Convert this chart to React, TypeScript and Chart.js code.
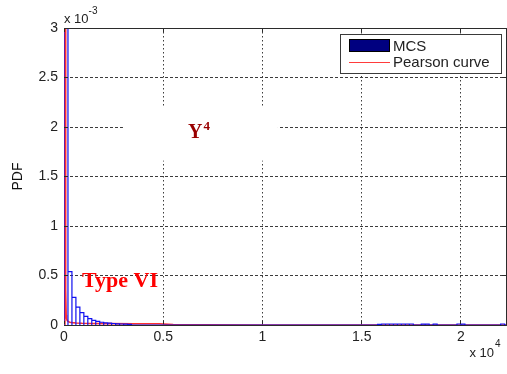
import React, { useEffect, useRef } from "react";
import { Chart, registerables } from "chart.js";

Chart.register(...registerables);

// ---- axes ----
const X_MAX = 22270;
const Y_MAX = 3; // values in units of 10^-3
const xTickValues = [0, 5000, 10000, 15000, 20000];
const xTickLabels = ["0", "0.5", "1", "1.5", "2"];
const yTickValues = [0, 0.5, 1, 1.5, 2, 2.5, 3];
const yTickLabels = ["0", "0.5", "1", "1.5", "2", "2.5", "3"];

// ---- MCS histogram (bin left edge, PDF x 10^-3) ----
const BIN_WIDTH = 200;
const mcsBinStart = [
  0, 200, 400, 600, 800, 1000, 1200, 1400, 1600, 1800, 2000, 2200, 2400, 2600,
  2800, 3000, 3200, 15800, 16000, 16200, 16400, 16600, 16800, 17000, 17200,
  17400, 18000, 18200, 18600, 19800, 20000, 22000,
];
const mcsPdf = [
  3.45, 0.54, 0.28, 0.18, 0.125, 0.087, 0.064, 0.046, 0.036, 0.028, 0.022,
  0.018, 0.015, 0.012, 0.01, 0.008, 0.006, 0.006, 0.01, 0.01, 0.01, 0.01, 0.01,
  0.01, 0.01, 0.01, 0.008, 0.008, 0.008, 0.01, 0.008, 0.01,
];

// ---- Pearson (Type VI) curve ----
const pearsonX = [
  25, 45, 60, 72, 84, 95, 110, 130, 160, 220, 300, 420, 600, 900, 1400, 2200,
  3500, 4800, 5500, 7000, 10000, 22270,
];
const pearsonPdf = [
  0, 3.5, 12, 8, 2.5, 0.35, 0.1, 0.065, 0.045, 0.034, 0.028, 0.024, 0.02,
  0.017, 0.015, 0.014, 0.013, 0.012, 0.004, 0.001, 0, 0,
];

const legendLabels = ["MCS", "Pearson curve"];

const SANS = '"Liberation Sans", Arial, sans-serif';
const SERIF = '"Liberation Serif", "Times New Roman", serif';

function buildOutline() {
  const pts: { x: number; y: number }[] = [];
  mcsBinStart.forEach((l, i) => {
    const r = l + BIN_WIDTH;
    const h = mcsPdf[i];
    pts.push({ x: l, y: 0 }, { x: l, y: h }, { x: r, y: h }, { x: r, y: 0 });
  });
  pts.push({ x: X_MAX, y: 0 });
  return pts;
}

const decor = {
  id: "decor",
  beforeDraw(chart: any) {
    const ctx = chart.ctx;
    ctx.save();
    ctx.fillStyle = "#ffffff";
    ctx.fillRect(0, 0, chart.width, chart.height);
    ctx.restore();
  },
  afterDatasetsDraw(chart: any) {
    const { ctx, chartArea: a } = chart;
    const xs = chart.scales.x;
    const ys = chart.scales.y;
    const al = (p: number) => Math.round(p - 0.5) + 0.5;
    ctx.save();
    ctx.setLineDash([]);
    // frame top & right
    ctx.strokeStyle = "#2b2b2b";
    ctx.lineWidth = 1;
    ctx.beginPath();
    ctx.moveTo(a.left, al(a.top));
    ctx.lineTo(a.right, al(a.top));
    ctx.moveTo(al(a.right), a.top);
    ctx.lineTo(al(a.right), a.bottom);
    ctx.stroke();
    // inward ticks
    const TL = 4;
    ctx.beginPath();
    xTickValues.forEach((v) => {
      const px = al(xs.getPixelForValue(v));
      ctx.moveTo(px, a.bottom - 1);
      ctx.lineTo(px, a.bottom - TL);
      ctx.moveTo(px, a.top);
      ctx.lineTo(px, a.top + TL);
    });
    yTickValues.forEach((v) => {
      const py = al(ys.getPixelForValue(v));
      ctx.moveTo(a.left, py);
      ctx.lineTo(a.left + TL, py);
      ctx.moveTo(a.right, py);
      ctx.lineTo(a.right - TL, py);
    });
    ctx.stroke();

    // Y^4 annotation with white background
    const bx1 = xs.getPixelForValue(2970);
    const bx2 = xs.getPixelForValue(10780);
    const by1 = ys.getPixelForValue(2.2);
    const by2 = ys.getPixelForValue(1.66);
    ctx.fillStyle = "#ffffff";
    ctx.fillRect(bx1, by1, bx2 - bx1, by2 - by1);
    const yx = xs.getPixelForValue(6250);
    const yb = ys.getPixelForValue(1.889);
    ctx.fillStyle = "#990000";
    ctx.textAlign = "left";
    ctx.textBaseline = "alphabetic";
    ctx.font = `bold 20px ${SERIF}`;
    ctx.fillText("Y", yx, yb);
    const wy = ctx.measureText("Y").width;
    ctx.font = `bold 13px ${SERIF}`;
    ctx.fillText("4", yx + wy + 1, yb - 8);

    // Type VI annotation
    ctx.fillStyle = "#ff0000";
    ctx.font = `bold 22px ${SERIF}`;
    ctx.fillText("Type VI", xs.getPixelForValue(907), ys.getPixelForValue(0.384));

    // exponent labels
    ctx.fillStyle = "#222222";
    ctx.font = `13px ${SANS}`;
    ctx.fillText("x 10", a.left, a.top - 5);
    const w1 = ctx.measureText("x 10").width;
    ctx.font = `10px ${SANS}`;
    ctx.fillText("-3", a.left + w1, a.top - 14);

    ctx.font = `13px ${SANS}`;
    const w2 = ctx.measureText("x 10").width;
    ctx.fillText("x 10", 494 - w2, a.bottom + 32);
    ctx.font = `10px ${SANS}`;
    ctx.fillText("4", 495, a.bottom + 22);

    // legend
    const lx = a.right - 166;
    const ly = a.top + 6;
    const lw = 162;
    const lh = 40;
    ctx.fillStyle = "#ffffff";
    ctx.fillRect(lx, ly, lw, lh);
    ctx.strokeStyle = "#3a3a3a";
    ctx.lineWidth = 1;
    ctx.strokeRect(lx + 0.5, ly + 0.5, lw - 1, lh - 1);
    ctx.fillStyle = "#000080";
    ctx.fillRect(lx + 9, ly + 5, 41, 13);
    ctx.strokeStyle = "#000000";
    ctx.strokeRect(lx + 9.5, ly + 5.5, 40, 12);
    ctx.strokeStyle = "#ff3b3b";
    ctx.beginPath();
    ctx.moveTo(lx + 9, ly + 28.5);
    ctx.lineTo(lx + 50, ly + 28.5);
    ctx.stroke();
    ctx.fillStyle = "#222222";
    ctx.font = `15px ${SANS}`;
    ctx.fillText(legendLabels[0], lx + 53, ly + 17);
    ctx.fillText(legendLabels[1], lx + 53, ly + 33);
    ctx.restore();
  },
};

export default function App() {
  const ref = useRef<HTMLCanvasElement | null>(null);
  useEffect(() => {
    if (!ref.current) return;
    const chart = new Chart(ref.current, {
      type: "line",
      data: {
        datasets: [
          {
            label: legendLabels[0],
            data: buildOutline(),
            borderColor: "#1010f0",
            borderWidth: 1.2,
            pointRadius: 0,
            tension: 0,
            fill: false,
          },
          {
            label: legendLabels[1],
            data: pearsonX.map((x, i) => ({ x, y: pearsonPdf[i] })),
            borderColor: "#ff3030",
            borderWidth: 1.6,
            pointRadius: 0,
            tension: 0,
            fill: false,
          },
        ],
      },
      options: {
        responsive: false,
        animation: false,
        devicePixelRatio: 1,
        layout: { padding: { top: 28, right: 1, left: 0, bottom: 0 } },
        plugins: { legend: { display: false }, tooltip: { enabled: false } },
        scales: {
          x: {
            type: "linear",
            min: 0,
            max: X_MAX,
            afterFit: (s: any) => {
              s.height = 49;
            },
            afterBuildTicks: (s: any) => {
              s.ticks = xTickValues.map((v) => ({ value: v }));
            },
            ticks: {
              padding: 4,
              maxRotation: 0,
              autoSkip: false,
              color: "#222222",
              font: { family: SANS, size: 14 },
              callback: (_v: any, i: number) => xTickLabels[i],
            },
            grid: { color: "#3c3c3c", lineWidth: 1, drawTicks: false },
            border: { display: true, color: "#2b2b2b", width: 1, dash: [1.5, 2.5] },
          },
          y: {
            type: "linear",
            min: 0,
            max: Y_MAX,
            afterFit: (s: any) => {
              s.width = 64;
            },
            afterBuildTicks: (s: any) => {
              s.ticks = yTickValues.map((v) => ({ value: v }));
            },
            ticks: {
              padding: 6,
              color: "#222222",
              font: { family: SANS, size: 14 },
              callback: (_v: any, i: number) => yTickLabels[i],
            },
            grid: { color: "#3c3c3c", lineWidth: 1, drawTicks: false },
            border: { display: true, color: "#2b2b2b", width: 1, dash: [3, 2] },
            title: {
              display: true,
              text: "PDF",
              color: "#111111",
              font: { family: SANS, size: 14 },
              padding: { top: 9.6, bottom: 0 },
            },
          },
        },
      },
      plugins: [decor],
    } as any);
    return () => chart.destroy();
  }, []);
  return (
    <div style={{ position: "absolute", left: 0, top: 0, width: 507, height: 374 }}>
      <canvas ref={ref} width={507} height={374} style={{ display: "block" }} />
    </div>
  );
}
